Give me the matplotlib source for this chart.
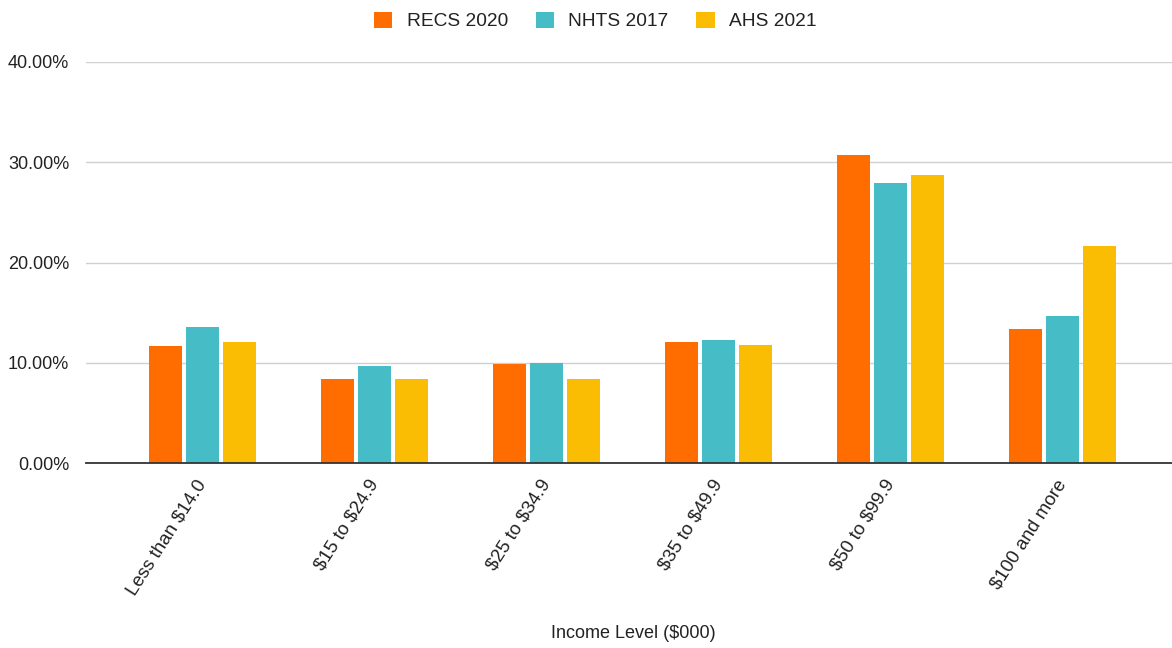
import matplotlib
matplotlib.use("Agg")
import matplotlib.pyplot as plt
import numpy as np
from matplotlib.ticker import PercentFormatter, MultipleLocator

plt.rcParams['font.family'] = ['Liberation Sans', 'DejaVu Sans']
plt.rcParams['text.parse_math'] = False

# Share of households by income level, per survey
categories = ["Less than $14.0", "$15 to $24.9", "$25 to $34.9",
              "$35 to $49.9", "$50 to $99.9", "$100 and more"]
recs_2020 = [11.7, 8.4, 9.9, 12.05, 30.7, 13.4]
nhts_2017 = [13.6, 9.7, 10.0, 12.3, 27.9, 14.7]
ahs_2021 = [12.1, 8.4, 8.4, 11.8, 28.75, 21.6]

series_names = ["RECS 2020", "NHTS 2017", "AHS 2021"]
series_values = [recs_2020, nhts_2017, ahs_2021]
colors = ["#FF6D01", "#46BDC6", "#FBBC04"]

fig = plt.figure(figsize=(11.72, 6.48), dpi=100)
ax = fig.add_axes([86 / 1172, 1 - 463 / 648, 1 - 86 / 1172, 401 / 648])

x = np.arange(len(categories))
bar_w = 0.192
step = 0.215
for k, (name, vals, c) in enumerate(zip(series_names, series_values, colors)):
    ax.bar(x + (k - 1) * step, vals, width=bar_w, color=c, label=name,
           zorder=3, linewidth=0)

ax.set_xlim(-0.68, 5.634)
ax.set_ylim(0, 40)
ax.yaxis.set_major_locator(MultipleLocator(10))
ax.yaxis.set_major_formatter(PercentFormatter(decimals=2))
ax.grid(axis='y', color='#d0d0d0', linewidth=1.0, zorder=0)
ax.set_axisbelow(True)
for s in ['top', 'right', 'left']:
    ax.spines[s].set_visible(False)
ax.spines['bottom'].set_color('#333333')
ax.spines['bottom'].set_linewidth(1.3)
ax.spines['bottom'].set_zorder(4)
ax.tick_params(axis='y', length=0, pad=12, labelsize=13, labelcolor='#222222')
ax.tick_params(axis='x', length=0, pad=13)
ax.set_xticks(x)
ax.set_xticklabels(categories, rotation=57.5, ha='right', va='center',
                   rotation_mode='anchor', fontsize=13.5, color='#222222')

fig.text(633 / 1172, 1 - 634 / 648, "Income Level ($000)", fontsize=13,
         color='#222222', ha='center', va='center')

leg = fig.legend(loc='upper center', bbox_to_anchor=(0.508, 1.0), ncol=3,
                 frameon=False, fontsize=13.8, handlelength=0.95, handleheight=0.95,
                 handletextpad=0.75, columnspacing=1.45, borderaxespad=0.2)
for t in leg.get_texts():
    t.set_color('#222222')

fig.savefig("out.png", dpi=100)
